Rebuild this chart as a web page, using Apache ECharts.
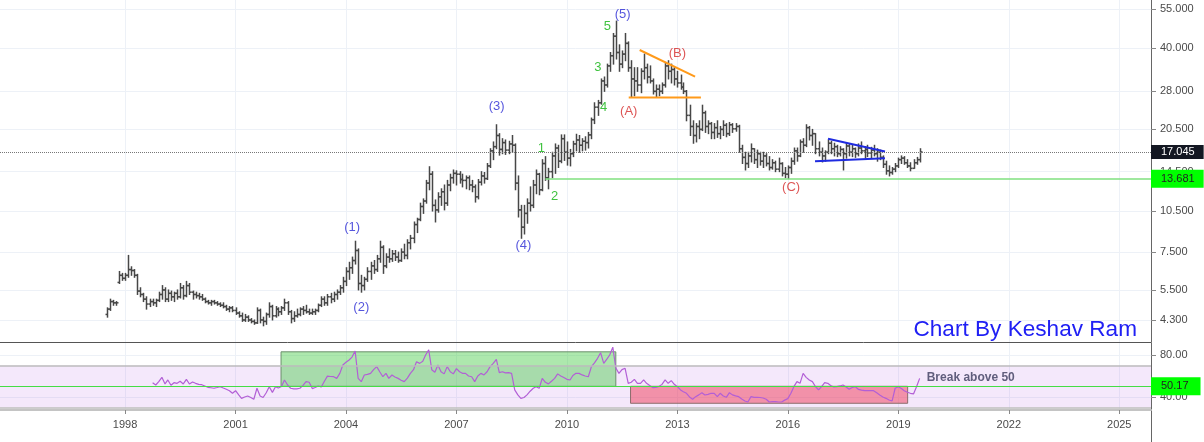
<!DOCTYPE html>
<html>
<head>
<meta charset="utf-8">
<script src="https://cdn.jsdelivr.net/npm/echarts@6/dist/echarts.min.js"></script>
<style>
html,body{margin:0;padding:0;background:#fff;}
#chart{width:1204px;height:442px;}
</style>
</head>
<body>
<div id="chart"></div>
<script>
// ---------- DATA ----------
const firstBarYear = 1997, firstBarMonth = 7;   // monthly OHLC bars start
// [open, high, low, close]
const priceBars = [
  // 1997 Jul-Dec
  [4.50,4.75,4.40,4.70],[4.70,5.10,4.65,5.00],[5.00,5.05,4.85,4.95],[4.95,5.00,4.85,4.95],[5.85,6.40,5.80,6.20],[6.20,6.30,5.95,6.05],
  // 1998
  [6.05,6.30,5.95,6.20],[6.20,7.30,6.10,6.50],[6.50,6.65,6.20,6.45],[6.45,6.50,6.10,6.20],[6.20,6.25,5.30,5.45],[5.45,5.60,5.20,5.30],
  [5.30,5.35,5.00,5.10],[5.10,5.20,4.70,4.90],[4.90,5.10,4.80,5.00],[5.00,5.10,4.85,4.95],[4.95,5.10,4.80,5.05],[5.05,5.40,5.00,5.30],
  // 1999
  [5.30,5.70,5.10,5.50],[5.50,5.60,5.00,5.10],[5.10,5.50,5.00,5.35],[5.35,5.45,5.05,5.20],[5.20,5.40,5.00,5.35],[5.35,5.50,5.10,5.20],
  [5.20,5.80,5.15,5.60],[5.60,5.70,5.10,5.25],[5.25,5.90,5.20,5.70],[5.70,5.80,5.30,5.40],[5.40,5.45,5.10,5.30],[5.30,5.40,5.15,5.25],
  // 2000
  [5.25,5.35,5.10,5.20],[5.20,5.30,5.05,5.10],[5.10,5.15,4.95,5.00],[5.00,5.05,4.90,4.95],[4.95,5.05,4.85,5.00],[5.00,5.05,4.90,4.95],
  [4.95,5.00,4.85,4.90],[4.90,4.95,4.80,4.85],[4.85,4.95,4.75,4.80],[4.80,4.85,4.65,4.70],[4.70,4.80,4.60,4.75],[4.75,4.80,4.60,4.65],
  // 2001
  [4.65,4.75,4.50,4.55],[4.55,4.60,4.40,4.45],[4.45,4.55,4.25,4.30],[4.30,4.50,4.25,4.40],[4.40,4.45,4.25,4.30],[4.30,4.35,4.20,4.25],
  [4.25,4.30,4.15,4.20],[4.20,4.75,4.18,4.65],[4.65,4.70,4.20,4.30],[4.30,4.40,4.10,4.25],[4.25,4.55,4.15,4.50],[4.50,4.95,4.40,4.80],
  // 2002
  [4.80,4.85,4.30,4.45],[4.45,4.80,4.40,4.70],[4.70,4.75,4.45,4.60],[4.60,4.80,4.50,4.75],[4.75,5.10,4.65,4.95],[4.95,5.00,4.50,4.60],
  [4.60,4.65,4.20,4.35],[4.35,4.60,4.25,4.45],[4.45,4.70,4.40,4.50],[4.50,4.75,4.45,4.70],[4.70,4.80,4.50,4.65],[4.65,4.85,4.55,4.60],
  // 2003
  [4.60,4.70,4.50,4.55],[4.55,4.70,4.50,4.60],[4.60,4.70,4.50,4.65],[4.65,4.90,4.60,4.85],[4.85,5.20,4.80,5.10],[5.10,5.20,4.85,4.95],
  [4.95,5.30,4.85,5.20],[5.20,5.35,4.95,5.10],[5.10,5.40,5.00,5.30],[5.30,5.50,5.10,5.40],[5.40,5.70,5.30,5.60],[5.60,6.10,5.40,5.90],
  // 2004
  [5.90,6.60,5.70,6.40],[6.40,6.90,6.00,6.60],[6.60,7.20,6.30,7.00],[7.00,8.20,6.80,7.60],[7.60,7.70,5.50,5.80],[5.80,6.20,5.40,5.70],
  [5.70,6.10,5.50,6.00],[6.00,6.60,5.90,6.40],[6.40,6.90,6.00,6.70],[6.70,7.00,6.30,6.50],[6.50,7.30,6.40,7.10],[7.10,8.20,6.90,7.80],
  // 2005
  [7.80,7.90,6.30,6.70],[6.70,7.40,6.60,7.20],[7.20,7.70,6.90,7.10],[7.10,7.60,6.95,7.40],[7.40,7.60,7.00,7.20],[7.20,7.50,6.90,7.00],
  [7.00,7.70,6.95,7.50],[7.50,8.00,7.10,7.30],[7.30,8.30,7.10,8.10],[8.10,8.60,7.70,8.40],[8.40,9.60,8.10,9.40],[9.40,9.90,8.80,9.80],
  // 2006
  [9.80,11.2,9.70,10.9],[10.9,11.6,10.3,11.4],[11.4,13.5,11.2,13.2],[13.2,15.1,12.5,14.2],[14.2,14.5,10.5,11.0],[11.0,11.5,9.60,10.6],
  [10.6,12.2,10.4,11.8],[11.8,12.6,11.0,12.3],[12.3,13.0,10.6,11.2],[11.2,13.5,11.0,13.0],[13.0,14.2,12.4,13.8],[13.8,14.7,13.2,14.3],
  // 2007
  [14.3,14.6,13.0,14.2],[14.2,14.5,13.2,13.6],[13.6,14.2,12.8,13.5],[13.5,14.0,12.6,13.8],[13.8,14.0,12.5,13.0],[13.0,13.5,12.3,12.8],
  [12.8,13.0,11.3,11.8],[11.8,13.6,11.6,13.3],[13.3,14.5,13.0,14.0],[14.0,14.4,13.2,13.7],[13.7,15.5,13.6,15.2],[15.2,17.5,15.0,17.2],
  // 2008
  [17.2,18.5,16.0,17.8],[17.8,21.3,17.5,19.5],[19.5,19.8,16.6,17.4],[17.4,19.0,16.8,18.4],[18.4,18.8,16.7,17.3],[17.3,18.6,16.8,18.2],
  [18.2,19.5,17.0,18.0],[18.0,18.2,12.5,13.2],[13.2,14.0,10.0,10.6],[10.6,11.0,8.40,9.20],[9.20,11.0,8.70,10.3],[10.3,11.6,9.50,11.2],
  // 2009
  [11.2,12.8,10.5,11.0],[11.0,13.5,10.8,13.0],[13.0,14.7,12.1,14.2],[14.2,14.3,12.0,12.5],[12.5,16.0,12.4,15.5],[15.5,16.4,13.5,13.8],
  [13.8,14.9,12.6,14.5],[14.5,17.0,13.8,16.5],[16.5,18.2,14.3,17.6],[17.6,18.0,15.0,15.8],[15.8,19.6,15.6,19.0],[19.0,19.6,15.9,17.0],
  // 2010
  [17.0,18.5,15.3,16.2],[16.2,17.4,15.2,16.8],[16.8,18.6,16.4,18.2],[18.2,19.7,17.2,18.8],[18.8,19.5,17.0,18.0],[18.0,19.0,17.2,18.6],
  [18.6,19.3,17.3,18.4],[18.4,20.0,17.6,19.6],[19.6,22.5,19.0,22.2],[22.2,25.5,21.5,24.6],[24.6,26.0,23.0,25.5],[25.5,31.0,25.2,30.5],
  // 2011
  [30.5,31.5,28.0,29.5],[29.5,35.0,29.0,34.5],[34.5,38.5,33.0,37.5],[37.5,45.0,35.0,44.0],[44.0,49.8,36.5,38.5],[38.5,41.0,33.0,35.0],
  [35.0,39.0,34.0,38.0],[38.0,45.0,36.0,41.5],[41.5,42.0,33.0,34.0],[34.0,36.0,26.7,31.0],[31.0,34.0,27.0,30.5],[30.5,34.0,28.0,29.5],
  // 2012
  [29.5,33.7,27.7,33.0],[33.0,38.0,31.0,34.0],[34.0,35.0,30.0,31.5],[31.5,34.5,30.0,30.5],[30.5,31.0,27.4,28.0],[28.0,29.5,26.7,28.5],
  [28.5,29.5,27.0,28.0],[28.0,30.0,27.5,29.5],[29.5,35.5,29.0,34.5],[34.5,36.0,31.0,33.0],[33.0,35.0,30.0,33.5],[33.5,34.0,29.5,31.0],
  // 2013
  [31.0,33.0,29.0,30.0],[30.0,32.0,28.5,29.0],[29.0,30.0,27.5,28.0],[28.0,28.2,22.0,23.0],[23.0,25.0,19.5,21.0],[21.0,22.0,18.3,19.5],
  [19.5,21.5,18.5,21.0],[21.0,22.0,19.0,20.5],[20.5,25.0,20.3,23.5],[23.5,23.8,20.0,21.0],[21.0,22.0,19.8,21.5],[21.5,21.7,19.0,20.0],
  // 2014
  [20.0,21.5,19.0,20.8],[20.8,22.0,19.2,19.8],[19.8,21.0,19.0,20.5],[20.5,22.0,19.5,21.2],[21.2,21.5,19.3,19.8],[19.8,21.7,19.5,21.3],
  [21.3,21.5,20.0,20.6],[20.6,21.5,20.2,21.0],[21.0,21.2,17.0,17.5],[17.5,18.0,15.5,16.3],[16.3,17.0,14.7,15.5],[15.5,17.0,15.0,16.5],
  // 2015
  [16.5,18.2,15.7,17.5],[17.5,17.5,15.5,16.0],[16.0,17.3,15.0,16.8],[16.8,17.0,15.3,15.8],[15.8,17.0,15.0,16.5],[16.5,16.8,15.2,15.5],
  [15.5,16.4,14.7,15.0],[15.0,16.0,14.8,15.6],[15.6,15.8,14.5,14.8],[14.8,16.2,14.5,15.5],[15.5,15.6,14.0,14.3],[14.3,15.0,13.8,14.2],
  // 2016
  [14.2,15.2,13.7,15.0],[15.0,16.2,14.3,15.8],[15.8,17.6,15.4,17.2],[17.2,17.6,15.8,16.5],[16.5,18.8,16.4,18.5],[18.5,19.0,17.0,18.0],
  [18.0,21.3,17.8,20.8],[20.8,21.0,18.8,19.5],[19.5,20.5,18.0,19.8],[19.8,19.8,16.8,17.5],[17.5,18.5,16.5,17.0],[17.0,17.6,15.7,16.5],
  // 2017
  [16.5,17.2,15.8,17.0],[17.0,18.8,16.8,18.3],[18.3,18.6,16.8,17.5],[17.5,18.3,16.5,17.8],[17.8,18.0,16.4,16.8],[16.8,17.8,16.5,17.4],
  [17.4,17.5,14.7,16.8],[16.8,18.3,16.2,17.9],[17.9,18.2,16.5,17.0],[17.0,18.0,16.4,17.5],[17.5,17.6,16.3,16.8],[16.8,18.2,16.5,17.6],
  // 2018
  [17.6,18.5,16.8,17.2],[17.2,17.8,16.2,17.4],[17.4,18.0,16.4,16.9],[16.9,17.7,16.2,17.3],[17.3,18.0,16.5,16.8],[16.8,17.5,15.8,17.0],
  [17.0,17.3,16.0,16.3],[16.3,16.5,15.0,15.4],[15.4,15.8,14.2,14.6],[14.6,15.2,14.0,14.4],[14.4,15.0,14.2,14.8],[14.8,15.5,14.5,15.2],
  // 2019 Jan-Aug
  [15.2,16.2,15.0,16.0],[16.0,16.5,15.5,16.2],[16.2,16.4,15.4,15.6],[15.6,16.0,15.0,15.2],[15.2,15.6,14.6,14.9],[14.9,16.0,14.9,15.6],
  [15.6,16.3,15.4,16.0],[16.0,17.5,15.7,17.045]
];

const firstRsiYear = 1998, firstRsiMonth = 10;  // monthly RSI values start
const rsiValues = [
  53.6,51.4,54.6,
  58.7,52.4,56.2,51.1,53.6,53.0,54.9,52.4,56.8,52.4,54.3,53.0,
  52.0,51.7,50.5,49.2,48.8,48.3,49.0,49.8,48.5,47.3,46.0,43.5,
  46.0,42.0,38.7,40.0,40.9,39.5,37.8,48.3,40.9,39.5,44.0,49.8,
  44.4,49.8,48.5,50.0,56.2,51.4,48.3,47.8,47.8,48.3,51.0,54.6,
  54.0,48.0,49.0,50.5,49.5,55.0,59.9,59.5,59.3,57.7,62.5,70.5,
  73.0,75.2,78.0,83.8,57.7,54.6,60.9,61.5,62.5,66.0,68.9,64.0,
  59.3,62.5,57.7,60.9,59.0,57.7,56.0,54.6,58.0,62.5,66.0,73.6,
  72.0,74.0,80.0,84.8,66.0,63.5,70.5,64.0,62.0,68.9,64.0,62.0,
  67.0,64.0,62.5,62.5,60.0,59.3,54.6,60.0,62.5,61.0,64.0,68.9,
  72.0,75.9,63.2,64.0,63.0,63.2,62.5,46.7,42.0,38.7,39.5,42.0,
  45.5,48.3,49.8,48.3,57.7,54.0,52.5,55.0,57.7,62.0,60.0,58.5,
  56.8,56.2,60.5,62.5,62.5,61.0,60.0,59.3,68.9,72.5,76.8,82.2,
  72.0,76.0,80.0,87.4,67.6,62.5,66.0,67.3,53.0,54.0,56.8,53.0,
  53.0,56.2,53.0,51.0,48.9,49.2,50.0,52.0,56.2,53.0,55.6,52.1,
  49.8,46.7,45.0,43.5,40.0,37.8,40.3,42.0,44.1,41.9,42.5,43.5,
  43.5,40.3,43.5,41.0,39.7,44.1,42.0,41.0,40.3,38.0,36.2,35.2,
  40.3,39.7,39.7,39.5,39.0,37.8,35.2,35.5,35.5,35.2,35.2,37.0,
  38.4,43.5,49.8,54.6,53.0,62.5,58.7,56.2,54.6,50.0,46.7,49.8,
  53.6,53.0,51.0,49.5,49.8,50.5,51.4,49.5,47.3,49.0,49.8,47.3,
  46.5,46.0,46.0,46.0,46.0,44.0,41.9,40.0,38.7,37.1,36.2,48.3,
  49.8,48.0,46.0,44.5,43.5,42.9,49.8,57.7
];

const yearTicks = [1998, 2001, 2004, 2007, 2010, 2013, 2016, 2019, 2022, 2025];
const priceTicks = [4.3, 5.5, 7.5, 10.5, 14.5, 20.5, 28, 40, 55];
const rsiTicks = [40, 80];
const lastPrice = 17.045;
const supportLevel = 13.681;
const supportStart = '2009-06-01';
const rsiLevel = 50.17;

// wave annotations: [date, price, text, group]
const waveLabels = [
  ['2004-03-02', 9.21, '(1)', 'major'],
  ['2004-06-01', 4.78, '(2)', 'major'],
  ['2008-02-03', 24.8, '(3)', 'major'],
  ['2008-10-27', 7.89, '(4)', 'major'],
  ['2011-07-08', 52.4, '(5)', 'major'],
  ['2009-04-22', 17.5, '1', 'minor'],
  ['2009-09-02', 11.87, '2', 'minor'],
  ['2010-11-03', 34.2, '3', 'minor'],
  ['2011-01-01', 24.5, '4', 'minor'],
  ['2011-02-06', 47.7, '5', 'minor'],
  ['2011-09-06', 23.7, '(A)', 'corr'],
  ['2013-01-01', 38.3, '(B)', 'corr'],
  ['2016-02-03', 12.77, '(C)', 'corr']
];
// trend lines: [[date, price], [date, price], group]
const trendLines = [
  [['2011-12-24', 39.3], ['2013-06-25', 31.6], 'tri'],
  [['2011-09-06', 26.6], ['2013-08-22', 26.6], 'tri'],
  [['2017-02-03', 19.0], ['2018-08-22', 17.1], 'flag'],
  [['2016-09-27', 15.8], ['2018-08-22', 16.2], 'flag']
];
// RSI zones: [fromDate, toDate, low, high, group]
const rsiZones = [
  ['2002-03-28', '2011-05-01', 50.17, 83, 'bull'],
  ['2011-09-24', '2019-04-04', 34, 50.17, 'bear']
];
const rsiBand = [30, 70];
const rsiNote = ['2019-10-05', 58, 'Break above 50'];

// ---------- STYLES ----------
const FONT = '"Liberation Sans", Arial, sans-serif';
const waveColors = { major: '#2a2ad4', minor: '#0fb30f', corr: '#d42a2a' };
const lineColors = { tri: '#ff9a1a', flag: '#1f2be0' };
const zoneStyles = {
  bull: { color: 'rgba(60,200,60,0.42)', borderColor: '#6b8f6b', borderWidth: 1 },
  bear: { color: 'rgba(240,50,80,0.48)', borderColor: '#8c6c6c', borderWidth: 1 }
};

function ts(s) { const p = s.split('-').map(Number); return Date.UTC(p[0], p[1] - 1, p[2]); }
const xMin = Date.UTC(1994, 7, 9);
const xMax = Date.UTC(2025, 10, 12);
const yearTickValues = yearTicks.map(y => Date.UTC(y, 0, 1));

const barData = priceBars.map((b, i) => [Date.UTC(firstBarYear, firstBarMonth - 1 + i, 1), b[0], b[1], b[2], b[3]]);
const rsiData = rsiValues.map((v, i) => [Date.UTC(firstRsiYear, firstRsiMonth - 1 + i, 1), v]);

function renderBar(params, api) {
  const t = api.value(0);
  const pO = api.coord([t, api.value(1)]);
  const pH = api.coord([t, api.value(2)]);
  const pL = api.coord([t, api.value(3)]);
  const pC = api.coord([t, api.value(4)]);
  const x = Math.round(pO[0]) + 0.5;
  const st = () => ({ stroke: '#474747', lineWidth: 1.5 });
  return {
    type: 'group',
    children: [
      { type: 'line', shape: { x1: x, y1: pH[1] - 0.5, x2: x, y2: pL[1] + 0.5 }, style: st() },
      { type: 'line', shape: { x1: x - 2, y1: pO[1], x2: x, y2: pO[1] }, style: st() },
      { type: 'line', shape: { x1: x, y1: pC[1], x2: x + 2, y2: pC[1] }, style: st() }
    ]
  };
}

const gridColor = '#edf1f7';
const axisText = { color: '#4a4a4a', fontSize: 11, fontFamily: FONT };

const trendSeries = trendLines.map((tl, i) => {
  const s = {
    type: 'line', xAxisIndex: 0, yAxisIndex: 0, z: 4, silent: true,
    showSymbol: false, symbol: 'none',
    data: [[ts(tl[0][0]), tl[0][1]], [ts(tl[1][0]), tl[1][1]]],
    lineStyle: { color: lineColors[tl[2]], width: 2 }
  };
  if (i === 0) {
    s.markLine = {
      silent: true, symbol: ['none', 'none'], animation: false,
      data: [
        {
          yAxis: lastPrice,
          lineStyle: { color: '#777', type: 'dotted', width: 1 },
          label: { show: true, position: 'end', distance: 0, formatter: lastPrice.toFixed(3),
            backgroundColor: '#131722', color: '#fff', padding: [2, 9, 1, 10], fontSize: 11, fontFamily: FONT }
        },
        [
          {
            coord: [ts(supportStart), supportLevel],
            lineStyle: { color: '#7fe07f', type: 'solid', width: 1.5 },
            label: { show: true, position: 'end', distance: 0, formatter: supportLevel.toFixed(3),
              backgroundColor: '#00ff00', color: '#222', padding: [5, 9, 2, 10], fontSize: 11, fontFamily: FONT }
          },
          { coord: [xMax, supportLevel] }
        ]
      ]
    };
  }
  return s;
});

const yearFmt = v => String(new Date(v).getUTCFullYear());

const option = {
  animation: false,
  backgroundColor: '#ffffff',
  title: {
    text: 'Chart By Keshav Ram', right: 62, top: 313,
    textStyle: { color: '#2020f4', fontSize: 22.6, fontWeight: 'normal', fontFamily: FONT }
  },
  grid: [
    { left: 0, right: 53, top: 0, height: 342 },
    { left: 0, right: 53, top: 343, height: 67 },
    { left: 0, right: 53, top: 410, height: 32 }
  ],
  xAxis: [
    { type: 'value', gridIndex: 0, min: xMin, max: xMax, scale: true,
      axisLine: { show: true, onZero: false, lineStyle: { color: '#555', width: 1 } },
      axisTick: { show: false, customValues: yearTickValues },
      axisLabel: { show: false, customValues: yearTickValues },
      splitLine: { show: true, lineStyle: { color: gridColor, width: 1 } } },
    { type: 'value', gridIndex: 1, min: xMin, max: xMax, scale: true,
      axisLine: { show: true, onZero: false, lineStyle: { color: '#c4c4c4', width: 2 } },
      axisTick: { show: true, length: 4, customValues: yearTickValues, lineStyle: { color: '#888' } },
      axisLabel: Object.assign({ customValues: yearTickValues, margin: 9, hideOverlap: false, formatter: yearFmt }, axisText),
      splitLine: { show: true, lineStyle: { color: gridColor, width: 1 } } },
    { type: 'value', gridIndex: 2, min: xMin, max: xMax, show: false }
  ],
  yAxis: [
    { type: 'log', gridIndex: 0, position: 'right', min: 3.59, max: 59.2,
      axisLine: { show: true, lineStyle: { color: '#666' } },
      axisTick: { show: true, length: 5, customValues: priceTicks, lineStyle: { color: '#888' } },
      axisLabel: Object.assign({ customValues: priceTicks, margin: 9, formatter: v => Number(v).toFixed(3) }, axisText),
      splitLine: { show: true, lineStyle: { color: gridColor, width: 1 } } },
    { type: 'value', gridIndex: 1, position: 'right', min: 27.6, max: 91.4,
      axisLine: { show: true, lineStyle: { color: '#666' } },
      axisTick: { show: true, length: 5, customValues: rsiTicks, lineStyle: { color: '#888' } },
      axisLabel: Object.assign({ customValues: rsiTicks, margin: 9, formatter: v => Number(v).toFixed(2) }, axisText),
      splitLine: { show: true, lineStyle: { color: gridColor, width: 1 } } },
    { type: 'value', gridIndex: 2, position: 'right', min: 0, max: 1,
      axisLine: { show: true, lineStyle: { color: '#666' } },
      axisTick: { show: false }, axisLabel: { show: false }, splitLine: { show: false } }
  ],
  series: [
    {
      type: 'custom', name: 'price', xAxisIndex: 0, yAxisIndex: 0, z: 3, silent: true,
      renderItem: renderBar,
      encode: { x: 0, y: [1, 2, 3, 4] },
      data: barData
    },
    ...trendSeries,
    {
      type: 'scatter', xAxisIndex: 0, yAxisIndex: 0, z: 6, silent: true,
      symbolSize: 1, itemStyle: { color: 'rgba(0,0,0,0)' },
      label: { show: true, position: 'inside', fontSize: 13, fontFamily: FONT, formatter: p => p.value[2] },
      data: waveLabels.map(w => ({ value: [ts(w[0]), w[1], w[2]], label: { color: waveColors[w[3]] } }))
    },
    {
      type: 'line', name: 'rsi', xAxisIndex: 1, yAxisIndex: 1, z: 4, silent: true,
      showSymbol: false, symbol: 'none',
      data: rsiData,
      lineStyle: { color: '#b25fd6', width: 1.2 },
      markArea: {
        silent: true,
        data: [
          [{ yAxis: rsiBand[0], itemStyle: { color: 'rgba(180,100,230,0.15)' } }, { yAxis: rsiBand[1] }],
          ...rsiZones.map(z => [{ coord: [ts(z[0]), z[2]], itemStyle: zoneStyles[z[4]] }, { coord: [ts(z[1]), z[3]] }])
        ]
      },
      markLine: {
        silent: true, symbol: ['none', 'none'], animation: false,
        data: [
          { yAxis: rsiBand[1], lineStyle: { color: '#bdbdbd', type: 'solid', width: 1.5 }, label: { show: false } },
          { yAxis: rsiBand[0], lineStyle: { color: '#bdbdbd', type: 'solid', width: 1.5 }, label: { show: false } },
          { yAxis: rsiLevel, lineStyle: { color: '#45dd45', type: 'solid', width: 1 },
            label: { show: true, position: 'end', distance: 0, formatter: rsiLevel.toFixed(2),
              backgroundColor: '#00ff00', color: '#222', padding: [3, 12, 4, 10], fontSize: 11, fontFamily: FONT } }
        ]
      }
    },
    {
      type: 'scatter', xAxisIndex: 1, yAxisIndex: 1, z: 6, silent: true,
      symbolSize: 1, itemStyle: { color: 'rgba(0,0,0,0)' },
      label: { show: true, position: 'right', distance: 0, fontSize: 12, fontWeight: 'bold',
        color: '#3b3b5c', fontFamily: FONT, formatter: p => p.value[2] },
      data: [[ts(rsiNote[0]), rsiNote[1], rsiNote[2]]]
    }
  ]
};

const chart = echarts.init(document.getElementById('chart'), null, { renderer: 'canvas' });
chart.setOption(option);
</script>
</body>
</html>
